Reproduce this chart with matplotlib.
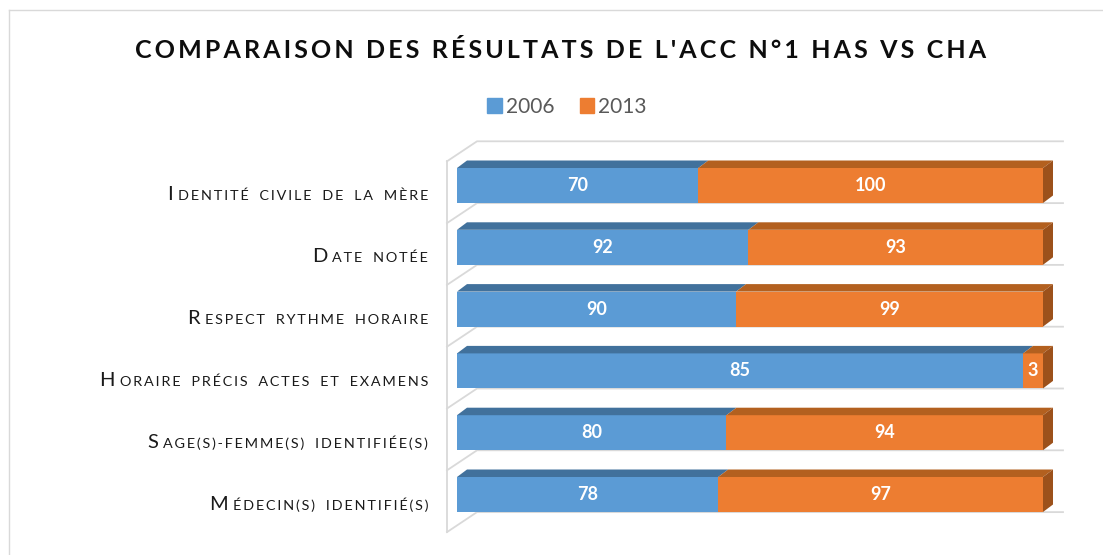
import matplotlib.pyplot as plt
from matplotlib.patches import Polygon, Patch
from matplotlib.lines import Line2D

# data
categories = ['Identité civile de la mère', 'Date notée', 'Respect rythme horaire',
              'Horaire précis actes et examens', 'Sage(s)-femme(s) identifiée(s)',
              'Médecin(s) identifié(s)']
values_2006 = [70, 92, 90, 85, 80, 78]
values_2013 = [100, 93, 99, 3, 94, 97]
series_names = ['2006', '2013']
title = "COMPARAISON DES RÉSULTATS DE L'ACC N°1 HAS VS CHA"

front_colors = ['#5B9BD5', '#ED7D31']
top_colors = ['#41719C', '#B3601F']
side_color = '#9C511B'
grid_color = '#D9D9D9'
FONT = ['Lato', 'DejaVu Sans']

# pixel scale of the plot (px per percent, px per category)
PX_X = 5.86
PX_Y = 61.8


def dx(px):
    return px / PX_X


def dy(px):
    return px / PX_Y


fig = plt.figure(figsize=(11.03, 5.55), dpi=100)
ax = fig.add_axes([440 / 1103, 10 / 555, 640 / 1103, 415 / 555])
ax.set_xlim((440 - 457) / PX_X, (1080 - 457) / PX_X)
ax.set_ylim((545 - 185.5) / PX_Y, (130 - 185.5) / PX_Y)
ax.axis('off')

n = len(categories)

# left wall and category separators (3D look)
wall_x0 = -dx(10)
wall_x1 = wall_x0 + dx(30)
wall_dy = dy(20)
seps = [k - 0.5 + dy(6.7) for k in range(n + 1)]
ax.plot([wall_x0, wall_x0], [seps[0], seps[-1]], color=grid_color, lw=1.3, zorder=1)
for s in seps:
    ax.plot([wall_x0, wall_x1, 100 + dx(20)], [s, s - wall_dy, s - wall_dy],
            color=grid_color, lw=1.3, zorder=1)

# bars
H = 35 / PX_Y
ddx = dx(10)
ddy = dy(7.5)
for i in range(n):
    vals = [values_2006[i], values_2013[i]]
    total = sum(vals)
    left = 0
    yt = i - H / 2
    yb = i + H / 2
    for j, v in enumerate(vals):
        p = v / total * 100
        ax.barh(i, p, left=left, height=H, color=front_colors[j], zorder=3)
        ax.add_patch(Polygon([(left, yt), (left + p, yt), (left + p + ddx, yt - ddy),
                              (left + ddx, yt - ddy)], closed=True,
                             facecolor=top_colors[j], edgecolor='none', zorder=3))
        ax.text(left + p / 2, i, str(v), ha='center', va='center', color='white',
                fontsize=13, fontweight='bold', family=FONT, zorder=5)
        left += p
    ax.add_patch(Polygon([(left, yt), (left + ddx, yt - ddy), (left + ddx, yb - ddy),
                          (left, yb)], closed=True, facecolor=side_color,
                         edgecolor='none', zorder=3))

# category labels in small caps
renderer = fig.canvas.get_renderer()
label_x = (428 - 457) / PX_X
for i, lab in enumerate(categories):
    first, rest = lab[0], lab[1:]
    rest_txt = '\u2009'.join(rest.upper()).replace(' ', '  ')
    t = ax.text(label_x, i + dy(15), rest_txt, ha='right', va='baseline',
                fontsize=10.4, color='#1A1A1A', family=FONT, clip_on=False)
    bb = t.get_window_extent(renderer)
    w_pt = bb.width * 72 / fig.dpi
    ax.annotate(first, xy=(label_x, i + dy(15)), xytext=(-(w_pt + 3.5), 0),
                textcoords='offset points', ha='right', va='baseline',
                fontsize=14.5, color='#1A1A1A', family=FONT, annotation_clip=False)

# title and legend
fig.text(561 / 1103, 1 - 50 / 555, '\u2009'.join(title), ha='center', va='center',
         fontsize=18, fontweight='bold', family=FONT, color='#0D0D0D')

handles = [Patch(color=front_colors[k], label=series_names[k]) for k in range(2)]
fig.legend(handles=handles, loc='center', bbox_to_anchor=(567 / 1103, 1 - 107 / 555),
           ncol=2, frameon=False, handlelength=0.7, handleheight=0.7,
           handletextpad=0.2, columnspacing=1.2, labelcolor='#595959',
           prop={'family': FONT, 'size': 15})

# chart border (top and left visible)
fig.add_artist(Line2D([9 / 1103, 1], [1 - 10 / 555, 1 - 10 / 555],
                      transform=fig.transFigure, color=grid_color, lw=1))
fig.add_artist(Line2D([9 / 1103, 9 / 1103], [0, 1 - 10 / 555],
                      transform=fig.transFigure, color=grid_color, lw=1))

fig.savefig('out.png', dpi=100)
